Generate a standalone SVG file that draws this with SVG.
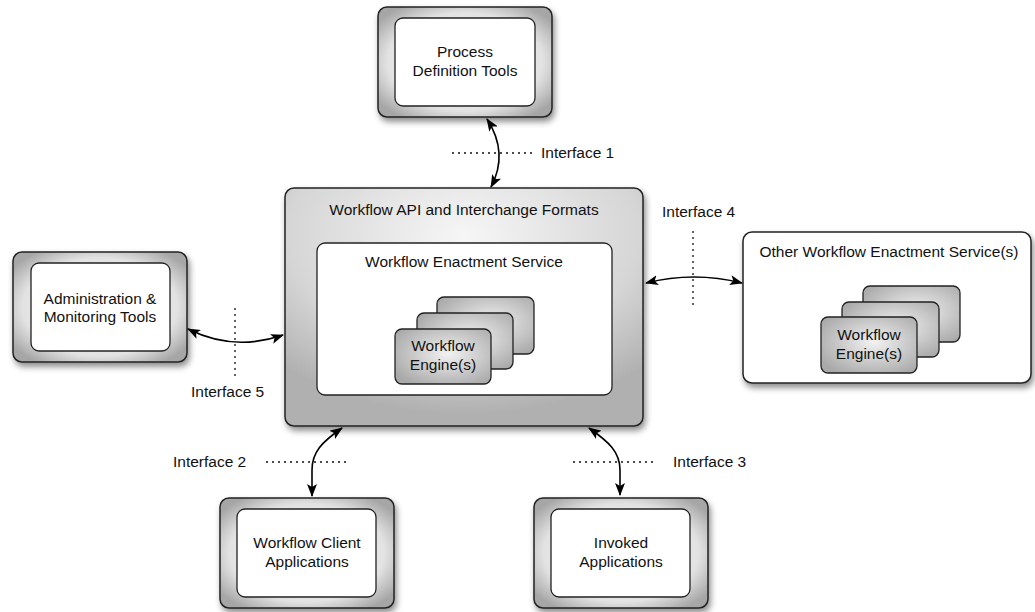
<svg xmlns="http://www.w3.org/2000/svg" width="1035" height="612" viewBox="0 0 1035 612">
  <defs>
    <radialGradient id="frameGrad" cx="50%" cy="50%" r="62%">
      <stop offset="0%" stop-color="#fafafa"/>
      <stop offset="72%" stop-color="#e2e2e2"/>
      <stop offset="100%" stop-color="#a6a6a6"/>
    </radialGradient>
    <radialGradient id="apiGrad" cx="50%" cy="20%" r="75%">
      <stop offset="0%" stop-color="#f6f6f6"/>
      <stop offset="65%" stop-color="#d6d6d6"/>
      <stop offset="100%" stop-color="#b0b0b0"/>
    </radialGradient>
    <radialGradient id="engineGrad" cx="55%" cy="45%" r="65%">
      <stop offset="0%" stop-color="#f2f2f2"/>
      <stop offset="100%" stop-color="#a9a9a9"/>
    </radialGradient>
    <filter id="shadow" x="-10%" y="-10%" width="125%" height="130%">
      <feDropShadow dx="2" dy="4" stdDeviation="3" flood-color="#000" flood-opacity="0.45"/>
    </filter>
    <marker id="head" viewBox="0 0 13 10" refX="12" refY="5" markerWidth="13" markerHeight="10" markerUnits="userSpaceOnUse" orient="auto-start-reverse">
      <path d="M0,0 L13,5 L0,10 L3,5 Z" fill="#000"/>
    </marker>
    <style>
      .frame { fill: url(#frameGrad); stroke: #222; stroke-width: 1.5; filter: url(#shadow); }
      .api { fill: url(#apiGrad); stroke: #222; stroke-width: 1.5; filter: url(#shadow); }
      .panel { fill: #fff; stroke: #222; stroke-width: 1.3; }
      .other { fill: #fff; stroke: #222; stroke-width: 1.5; filter: url(#shadow); }
      .engine { fill: url(#engineGrad); stroke: #222; stroke-width: 1.3; }
      .label { font-family: "Liberation Sans", Arial, sans-serif; font-size: 15.5px; fill: #111; }
      .mid { text-anchor: middle; }
      .link { fill: none; stroke: #000; stroke-width: 1.6; marker-start: url(#head); marker-end: url(#head); }
      .dots { fill: none; stroke: #111; stroke-width: 1.3; stroke-dasharray: 2 4; }
    </style>
  </defs>

  <rect width="1035" height="612" fill="#fff"/>

  <!-- Process Definition Tools -->
  <g id="process-definition-tools">
    <rect class="frame" x="378" y="7" width="174" height="110" rx="9"/>
    <rect class="panel" x="395" y="18" width="140" height="88" rx="8"/>
    <text class="label mid" x="465" y="57">Process</text>
    <text class="label mid" x="465" y="76">Definition Tools</text>
  </g>

  <!-- Central service -->
  <g id="workflow-api">
    <rect class="api" x="285" y="188" width="358" height="238" rx="9"/>
    <text class="label mid" x="464" y="215">Workflow API and Interchange Formats</text>
  </g>
  <g id="workflow-enactment-service">
    <rect class="panel" x="317" y="243" width="295" height="152" rx="8"/>
    <text class="label mid" x="464" y="267">Workflow Enactment Service</text>
  </g>
  <g id="workflow-engines">
    <rect class="engine" x="437" y="297" width="97" height="57" rx="7"/>
    <rect class="engine" x="417" y="313" width="96" height="56" rx="7"/>
    <rect class="engine" x="395" y="329" width="96" height="55" rx="7"/>
    <text class="label mid" x="443" y="351">Workflow</text>
    <text class="label mid" x="443" y="370">Engine(s)</text>
  </g>

  <!-- Administration & Monitoring Tools -->
  <g id="admin-tools">
    <rect class="frame" x="13" y="252" width="174" height="110" rx="9"/>
    <rect class="panel" x="31" y="263" width="139" height="88" rx="8"/>
    <text class="label mid" x="100" y="304">Administration &amp;</text>
    <text class="label mid" x="100" y="322">Monitoring Tools</text>
  </g>

  <!-- Other Workflow Enactment Service(s) -->
  <g id="other-enactment-services">
    <rect class="other" x="743" y="232" width="288" height="151" rx="9"/>
    <text class="label mid" x="889" y="257">Other Workflow Enactment Service(s)</text>
    <rect class="engine" x="863" y="286" width="97" height="56" rx="7"/>
    <rect class="engine" x="842" y="302" width="97" height="55" rx="7"/>
    <rect class="engine" x="821" y="317" width="96" height="56" rx="7"/>
    <text class="label mid" x="869" y="340">Workflow</text>
    <text class="label mid" x="869" y="359">Engine(s)</text>
  </g>

  <!-- Workflow Client Applications -->
  <g id="client-applications">
    <rect class="frame" x="220" y="498" width="174" height="110" rx="9"/>
    <rect class="panel" x="237" y="509" width="139" height="88" rx="8"/>
    <text class="label mid" x="307" y="548">Workflow Client</text>
    <text class="label mid" x="307" y="567">Applications</text>
  </g>

  <!-- Invoked Applications -->
  <g id="invoked-applications">
    <rect class="frame" x="534" y="498" width="174" height="110" rx="9"/>
    <rect class="panel" x="551" y="509" width="139" height="88" rx="8"/>
    <text class="label mid" x="621" y="548">Invoked</text>
    <text class="label mid" x="621" y="567">Applications</text>
  </g>

  <!-- Interfaces: boundary markers, links and labels -->
  <g id="connectors">
    <!-- Interface 1 -->
    <line class="dots" x1="452" y1="153" x2="532" y2="153"/>
    <path class="link" d="M487,119 Q509,153 491,187"/>
    <text class="label" x="541" y="158">Interface 1</text>

    <!-- Interface 2 -->
    <line class="dots" x1="266" y1="462" x2="349" y2="462"/>
    <path class="link" d="M342,428 C322,442 312,452 312,470 L312,496"/>
    <text class="label" x="173" y="467">Interface 2</text>

    <!-- Interface 3 -->
    <line class="dots" x1="573" y1="462" x2="656" y2="462"/>
    <path class="link" d="M589,428 C609,442 620,452 620,470 L620,495"/>
    <text class="label" x="673" y="467">Interface 3</text>

    <!-- Interface 4 -->
    <line class="dots" x1="693" y1="231" x2="693" y2="307"/>
    <path class="link" d="M646,283 Q694,271 742,283"/>
    <text class="label" x="662" y="217">Interface 4</text>

    <!-- Interface 5 -->
    <line class="dots" x1="235" y1="308" x2="235" y2="378"/>
    <path class="link" d="M188,329 Q234,352 283,335"/>
    <text class="label" x="191" y="397">Interface 5</text>
  </g>
</svg>
